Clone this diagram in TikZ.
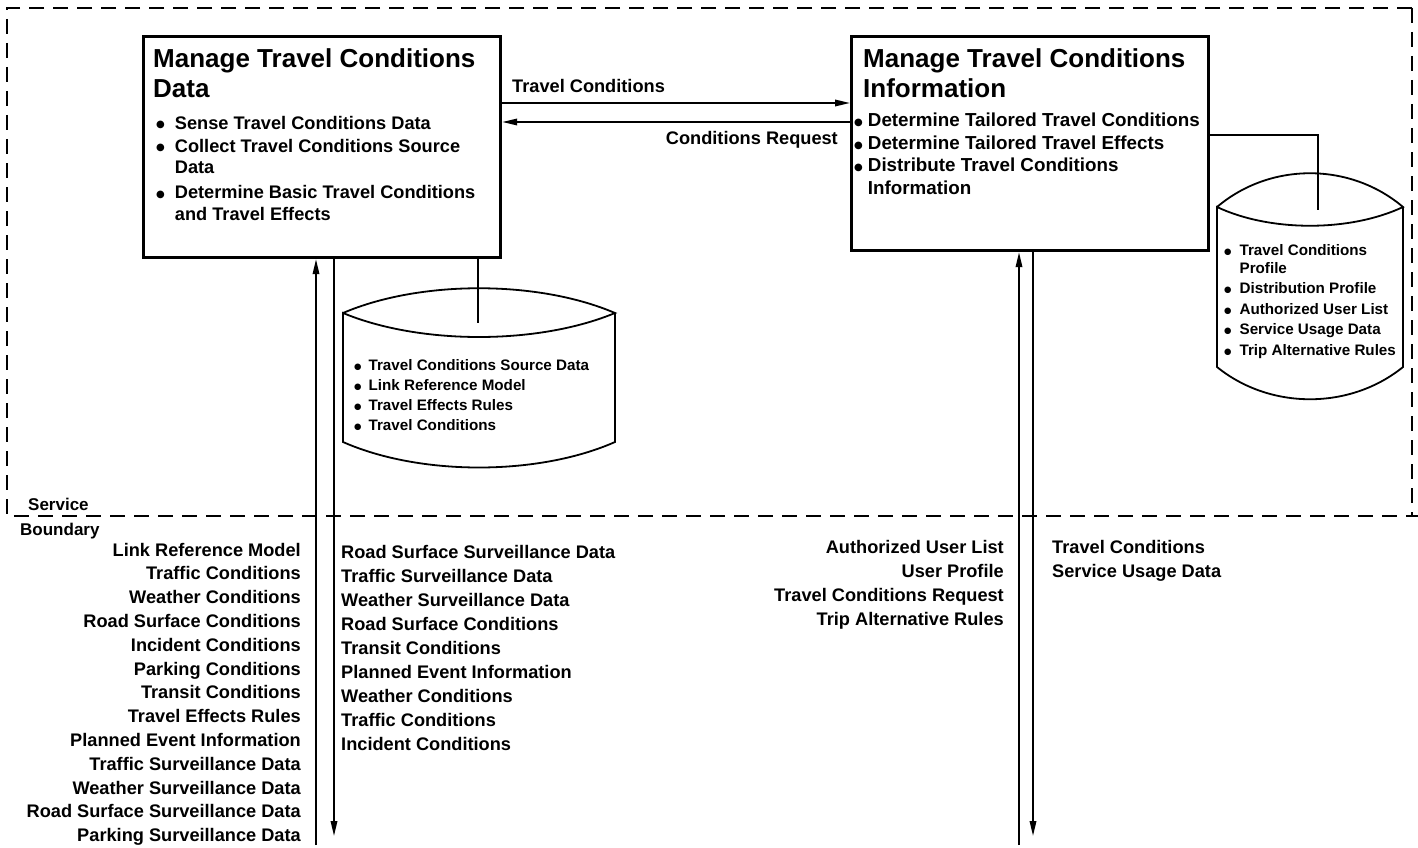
\documentclass[tikz,border=0pt]{standalone}
\usepackage{fontspec}
\setmainfont{Liberation Sans}
\newfontfamily\dejavu{DejaVu Sans}
\newcommand{\bulA}{\raisebox{1.2pt}{\dejavu\fontsize{10}{10}\selectfont ●}}
\newcommand{\bulB}{\raisebox{1pt}{\dejavu\fontsize{8.5}{8.5}\selectfont ●}}
\usetikzlibrary{arrows.meta}
\begin{document}
\begin{tikzpicture}[x=1pt,y=-1pt,
  procbox/.style={draw, line width=3.2pt, inner sep=0pt, anchor=north west},
  flow/.style={line width=1.8pt, -{Triangle[length=15pt,width=6.5pt]}},
  plain/.style={line width=1.6pt},
  bound/.style={line width=1.8pt, dash pattern=on 15pt off 9pt},
  cyl/.style={line width=1.8pt},
  txt/.style={inner sep=0pt},
  titlef/.style={txt, font=\bfseries\fontsize{26}{30}\selectfont},
  lblf/.style={txt, font=\bfseries\fontsize{18.2}{24}\selectfont},
]
\useasboundingbox (0,0) rectangle (1418,848);

% service boundary
\draw[bound] (1412,8) -- (7,8) -- (7,516) -- (1418,516);
\draw[bound] (1412,8) -- (1412,516);
\node[txt, font=\bfseries\fontsize{17}{20}\selectfont, anchor=base west] (sv) at (28,510) {Service};
\node[txt, font=\bfseries\fontsize{17}{20}\selectfont, anchor=base west] (bd) at (20,535) {Boundary};

% process boxes
\node[procbox, minimum width=357pt, minimum height=221pt] (ld) at (142,35) {};
\node[procbox, minimum width=357pt, minimum height=214pt] (ri) at (850,35) {};

\node[titlef, anchor=base west] (ldt) at (153,68) {\begin{tabular}[t]{@{}l@{}}Manage Travel Conditions\\Data\end{tabular}};
\node[titlef, anchor=base west] (rit) at (863,68) {\begin{tabular}[t]{@{}l@{}}Manage Travel Conditions\\Information\end{tabular}};

\node[txt, anchor=base west, font=\bfseries\fontsize{18.2}{21.5}\selectfont] (ldl) at (156,129) {\begin{tabular}[t]{@{}l@{\hspace{10pt}}l@{}}
\bulA & Sense Travel Conditions Data\\[1.5pt]
\bulA & Collect Travel Conditions Source\\
 & Data\\[4pt]
\bulA & Determine Basic Travel Conditions\\
 & and Travel Effects
\end{tabular}};

\node[txt, anchor=base west, font=\bfseries\fontsize{18.8}{22.5}\selectfont] (ril) at (854,127) {\begin{tabular}[t]{@{}l@{\hspace{5pt}}l@{}}
\bulA & Determine Tailored Travel Conditions\\
\bulA & Determine Tailored Travel Effects\\
\bulA & Distribute Travel Conditions\\
 & Information
\end{tabular}};

% horizontal flows
\coordinate (ya) at (0,103);
\coordinate (yb) at (0,122);
\draw[flow] (ld.east |- ya) -- (ri.west |- ya);
\draw[flow] (ri.west |- yb) -- (ld.east |- yb);
\node[lblf, anchor=base west] (tcl) at (512,93) {Travel Conditions};
\node[lblf, anchor=base east] (crl) at (838,144) {Conditions Request};

% data stores (cylinders)
\draw[cyl] (343,313) .. controls (420,280) and (538,280) .. (615,313)
           .. controls (538,345) and (420,345) .. (343,313)
           -- (343,442) .. controls (420,476) and (538,476) .. (615,442) -- (615,313);
\draw[cyl] (1217,207) .. controls (1270,162) and (1350,162) .. (1403,207)
           .. controls (1350,232) and (1270,232) .. (1217,207)
           -- (1217,367) .. controls (1270,410) and (1350,410) .. (1403,367) -- (1403,207);

\node[txt, anchor=base west, font=\bfseries\fontsize{15.2}{20}\selectfont] (ls) at (354,370) {\begin{tabular}[t]{@{}l@{\hspace{7pt}}l@{}}
\bulB & Travel Conditions Source Data\\
\bulB & Link Reference Model\\
\bulB & Travel Effects Rules\\
\bulB & Travel Conditions
\end{tabular}};

\node[txt, anchor=base west, font=\bfseries\fontsize{15.2}{18}\selectfont] (rs) at (1224,255) {\begin{tabular}[t]{@{}l@{\hspace{8pt}}l@{}}
\bulB & Travel Conditions\\
 & Profile\\[2.5pt]
\bulB & Distribution Profile\\[2.5pt]
\bulB & Authorized User List\\[2.5pt]
\bulB & Service Usage Data\\[2.5pt]
\bulB & Trip Alternative Rules
\end{tabular}};

% box to store links
\coordinate (lc) at (478,323);
\draw[plain] (lc |- ld.south) -- (lc);
\coordinate (rc1) at (1318,135);
\coordinate (rc2) at (1318,210);
\draw[plain] (ri.east |- rc1) -- (rc1) -- (rc2);

% vertical flows
\coordinate (lup) at (316,845);
\coordinate (ldn) at (334,836);
\coordinate (rup) at (1019,845);
\coordinate (rdn) at (1033,836);
\draw[flow] (lup) -- (lup |- ld.south);
\draw[flow] (ldn |- ld.south) -- (ldn);
\draw[flow] (rup) -- (rup |- ri.south);
\draw[flow] (rdn |- ri.south) -- (rdn);

% external flow labels
\node[lblf, font=\bfseries\fontsize{18.2}{23.8}\selectfont, anchor=base east] (lin) at (301,556) {\begin{tabular}[t]{@{}r@{}}
Link Reference Model\\
Traffic Conditions\\
Weather Conditions\\
Road Surface Conditions\\
Incident Conditions\\
Parking Conditions\\
Transit Conditions\\
Travel Effects Rules\\
Planned Event Information\\
Traffic Surveillance Data\\
Weather Surveillance Data\\
Road Surface Surveillance Data\\
Parking Surveillance Data
\end{tabular}};

\node[lblf, anchor=base west] (lout) at (341,558) {\begin{tabular}[t]{@{}l@{}}
Road Surface Surveillance Data\\
Traffic Surveillance Data\\
Weather Surveillance Data\\
Road Surface Conditions\\
Transit Conditions\\
Planned Event Information\\
Weather Conditions\\
Traffic Conditions\\
Incident Conditions
\end{tabular}};

\node[lblf, anchor=base east] (rin) at (1004,553) {\begin{tabular}[t]{@{}r@{}}
Authorized User List\\
User Profile\hspace{6pt}\\
Travel Conditions Request\\
Trip Alternative Rules
\end{tabular}};

\node[lblf, anchor=base west] (rout) at (1052,553) {\begin{tabular}[t]{@{}l@{}}
Travel Conditions\\
Service Usage Data
\end{tabular}};
\end{tikzpicture}
\end{document}
